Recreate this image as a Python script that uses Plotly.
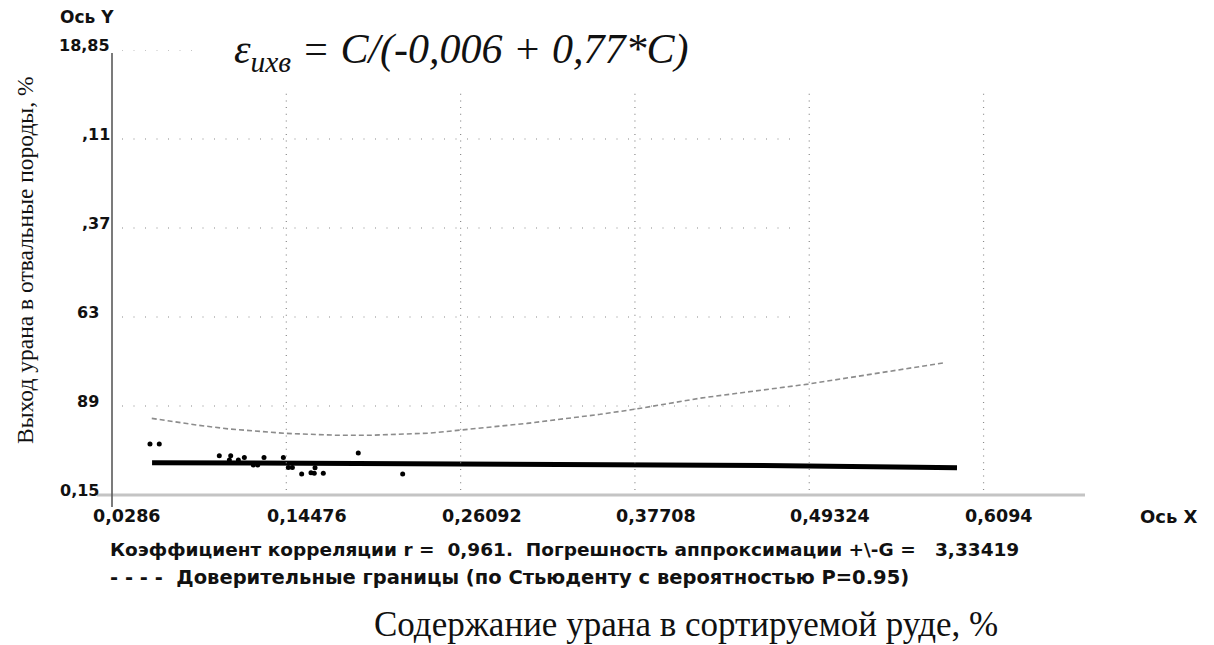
import plotly.graph_objects as go

# Sample measurements: uranium grade in sorted ore (C, %) vs. uranium yield to waste (%)
sample_c = [0.0539, 0.0601, 0.1001, 0.1077, 0.1068, 0.1128, 0.1168, 0.1228, 0.1257, 0.1299,
            0.1428, 0.1461, 0.1488, 0.1550, 0.1612, 0.1634, 0.1639, 0.1694, 0.1927, 0.2223]
sample_y = [2.29, 2.29, 1.80, 1.80, 1.62, 1.62, 1.73, 1.41, 1.41, 1.73,
            1.73, 1.31, 1.31, 1.03, 1.08, 1.06, 1.29, 1.06, 1.92, 1.03]

# Fitted curve  e = C/(-0.006 + 0.77*C)
fit_c = [0.0553, 0.1806, 0.3538, 0.4625, 0.5651, 0.5917]
fit_y = [1.51, 1.47, 1.44, 1.39, 1.32, 1.29]

# Upper confidence bound (Student, P = 0.95)
upper_c = [0.0551, 0.0850, 0.1072, 0.1444, 0.1786, 0.2005, 0.2405, 0.2605, 0.3052,
           0.3538, 0.3765, 0.4205, 0.4924, 0.5824]
upper_y = [3.37, 3.09, 2.92, 2.74, 2.66, 2.66, 2.75, 2.88, 3.16,
           3.54, 3.75, 4.22, 4.81, 5.70]

# Axis ticks
x_ticks = [0.0286, 0.14476, 0.26092, 0.37708, 0.49324, 0.6094]
x_tick_text = ["0,0286", "0,14476", "0,26092", "0,37708", "0,49324", "0,6094"]
y_ticks = [0.15, 3.89, 7.63, 11.37, 15.11, 18.85]
y_tick_text = ["0,15", "89", "63", ",37", ",11", "18,85"]

X_MIN, X_MAX = 0.0286, 0.677
Y_MIN, Y_MAX = 0.15, 18.85

W, H = 1214, 645
ML, MR, MT, MB = 112, 129, 50, 150
PW, PH = W - ML - MR, H - MT - MB


def px_x(p):
    """pixel column -> paper x"""
    return (p - ML) / PW


def px_y(p):
    """pixel row -> paper y"""
    return (H - MB - p) / PH


BOLD = "DejaVu Sans"
SERIF = "Liberation Serif"
INK = "#111111"

fig = go.Figure()

fig.add_trace(go.Scatter(
    x=upper_c, y=upper_y, mode="lines",
    line=dict(color="#8c8c8c", width=1.6, dash="5px,3px"),
    hoverinfo="skip", showlegend=False))

fig.add_trace(go.Scatter(
    x=fit_c, y=fit_y, mode="lines",
    line=dict(color="#000000", width=5),
    showlegend=False))

fig.add_trace(go.Scatter(
    x=sample_c, y=sample_y, mode="markers",
    marker=dict(color="#000000", size=5),
    showlegend=False))

shapes = []
# horizontal dotted grid
for v in y_ticks[1:]:
    shapes.append(dict(type="line", xref="paper", yref="y",
                       x0=px_x(122), x1=px_x(797), y0=v, y1=v,
                       line=dict(color="#8a8a8a", width=1.2, dash="1px,10.5px")))
# vertical dotted grid
for v in x_ticks[1:]:
    shapes.append(dict(type="line", xref="x", yref="paper",
                       x0=v, x1=v, y0=px_y(490), y1=px_y(93),
                       line=dict(color="#8a8a8a", width=1.2, dash="1px,5.7px")))
# white panel behind the formula
shapes.append(dict(type="rect", xref="paper", yref="paper",
                   x0=px_x(195), x1=1.0, y0=px_y(93), y1=px_y(0),
                   fillcolor="white", line=dict(width=0), layer="above"))
# axis lines
shapes.append(dict(type="line", xref="paper", yref="paper",
                   x0=px_x(97), x1=1.0, y0=0, y1=0,
                   line=dict(color="#c4c4c4", width=3)))
shapes.append(dict(type="line", xref="paper", yref="paper",
                   x0=0, x1=0, y0=px_y(507), y1=px_y(53),
                   line=dict(color="#5a5a5a", width=1.6)))

ann = []
# y tick labels
for i, (v, t) in enumerate(zip(y_ticks, y_tick_text)):
    right = 112 if i >= 3 else 101
    ann.append(dict(x=px_x(right), xref="paper", y=v, yref="y",
                    text=t, showarrow=False, xanchor="right", yanchor="middle",
                    yshift=5, font=dict(family=BOLD, size=16, color=INK, weight="bold")))
# x tick labels
for v, t in zip(x_ticks, x_tick_text):
    ann.append(dict(x=v, xref="x", y=px_y(516), yref="paper",
                    text=t, showarrow=False, xanchor="left", yanchor="middle",
                    xshift=-21, font=dict(family=BOLD, size=17.5, color=INK, weight="bold")))

ann += [
    dict(x=px_x(1138), xref="paper", y=px_y(516), yref="paper", text="Ось X",
         showarrow=False, xanchor="left", yanchor="middle",
         font=dict(family=BOLD, size=18, color=INK, weight="bold")),
    dict(x=px_x(58), xref="paper", y=px_y(17), yref="paper", text="Ось Y",
         showarrow=False, xanchor="left", yanchor="middle",
         font=dict(family=BOLD, size=17, color=INK, weight="bold")),
    dict(x=px_x(232), xref="paper", y=px_y(52), yref="paper",
         text="<i>ε<sub>ихв</sub> = C/(-0,006 + 0,77*C)</i>",
         showarrow=False, xanchor="left", yanchor="middle",
         font=dict(family=SERIF, size=42, color=INK)),
    dict(x=px_x(108), xref="paper", y=px_y(549), yref="paper",
         text="Коэффициент корреляции r =  0,961.  Погрешность аппроксимации +\\-G =   3,33419",
         showarrow=False, xanchor="left", yanchor="middle",
         font=dict(family=BOLD, size=18.5, color=INK, weight="bold")),
    dict(x=px_x(108), xref="paper", y=px_y(577), yref="paper",
         text="- - - -  Доверительные границы (по Стьюденту с вероятностью P=0.95)",
         showarrow=False, xanchor="left", yanchor="middle",
         font=dict(family=BOLD, size=19.5, color=INK, weight="bold")),
    dict(x=px_x(686), xref="paper", y=px_y(624), yref="paper",
         text="Содержание урана в сортируемой руде, %",
         showarrow=False, xanchor="center", yanchor="middle",
         font=dict(family=SERIF, size=35, color=INK)),
    dict(x=px_x(25), xref="paper", y=px_y(261), yref="paper",
         text="Выход урана в отвальные породы, %", textangle=-90,
         showarrow=False, xanchor="center", yanchor="middle",
         font=dict(family=SERIF, size=23.5, color=INK)),
]

fig.update_layout(
    width=W, height=H,
    margin=dict(l=ML, r=MR, t=MT, b=MB),
    paper_bgcolor="white", plot_bgcolor="white",
    xaxis=dict(range=[X_MIN, X_MAX], showgrid=False, zeroline=False,
               showticklabels=False, ticks="", showline=False),
    yaxis=dict(range=[Y_MIN, Y_MAX], showgrid=False, zeroline=False,
               showticklabels=False, ticks="", showline=False),
    shapes=shapes, annotations=ann, showlegend=False,
)

fig.write_html("out.html")
